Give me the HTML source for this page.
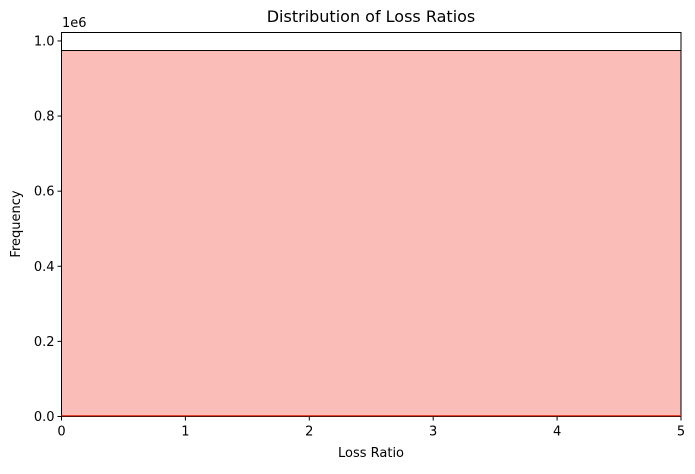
<!DOCTYPE html>
<html><head><meta charset="utf-8"><style>
body{margin:0;background:#fff;font-family:"DejaVu Sans",sans-serif}
text{font-family:"DejaVu Sans",sans-serif;fill:#000}
</style></head><body>
<svg width="695" height="470">
<text x="371" y="22" font-size="16" text-anchor="middle">Distribution of Loss Ratios</text>
<g id="plot"></g>
<text x="371" y="457" font-size="13" text-anchor="middle">Loss Ratio</text>
<text x="20" y="224" font-size="13" text-anchor="middle" transform="rotate(-90 20 224)">Frequency</text>
<text x="62" y="27" font-size="13">1e6</text>
</svg>
<script>
const binEdges=[0,5];
const binCounts=[0.9745];
const kdeX=[0,5];
const kdeY=[0.002,0.002];
const xTicks=[0,1,2,3,4,5];
const yTicks=[0,0.2,0.4,0.6,0.8,1.0];
const L=61.5,R=681,T=32.5,B=416.5,ymax=1.0225;
const sx=v=>L+(v-0)/(5-0)*(R-L);
const sy=v=>B-v/ymax*(B-T);
const g=document.getElementById('plot');
const NS='http://www.w3.org/2000/svg';
function mk(t,a){const e=document.createElementNS(NS,t);for(const k in a)e.setAttribute(k,a[k]);g.appendChild(e);return e;}
binCounts.forEach((c,i)=>{
 const r=mk('rect',{x:sx(binEdges[i]),y:sy(c),width:sx(binEdges[i+1])-sx(binEdges[i]),height:B-sy(c),fill:'#fbbdb8',stroke:'#000','stroke-width':1});
 
 
});
const fr=mk('rect',{x:L,y:T,width:R-L,height:B-T,fill:'none',stroke:'#000','stroke-width':1});


const kd=mk('polyline',{points:kdeX.map((x,i)=>sx(x)+','+sy(kdeY[i])).join(' '),fill:'none',stroke:'#e0301e','stroke-width':1.2});


xTicks.forEach(v=>{
 const x=sx(v);
 const l=mk('line',{x1:x,x2:x,y1:B,y2:B+4,stroke:'#000'});
 
 
 const t=mk('text',{x:x,y:B+19,'font-size':13,'text-anchor':'middle'});t.textContent=v;
 
 
});
yTicks.forEach(v=>{
 const y=sy(v);
 const l=mk('line',{x1:L-4,x2:L,y1:y,y2:y,stroke:'#000'});
 
 
 const t=mk('text',{x:L-7,y:y+4.5,'font-size':13,'text-anchor':'end'});t.textContent=v.toFixed(1);
 
 
});
</script>
</body></html>
